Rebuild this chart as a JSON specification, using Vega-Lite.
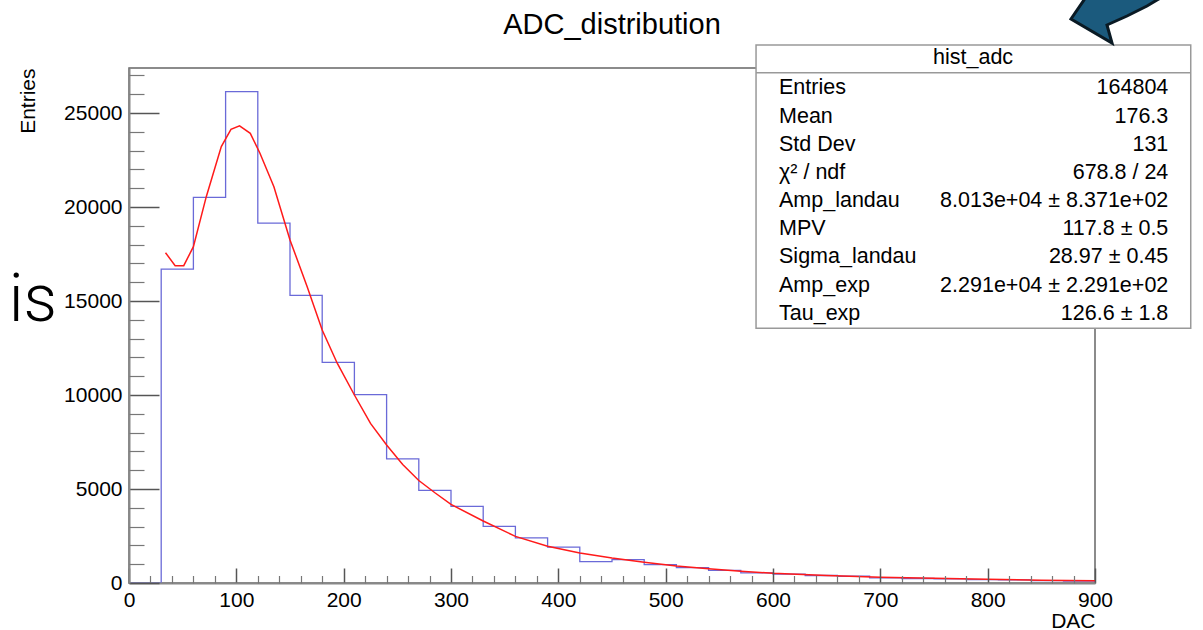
{
  "$schema": "https://vega.github.io/schema/vega-lite/v6.json",
  "width": 966,
  "height": 515,
  "autosize": {"type": "none"},
  "padding": {"left": 129, "top": 68, "right": 108, "bottom": 47},
  "background": "white",
  "config": {"view": {"stroke": "#666", "strokeWidth": 1.5}, "font": "Liberation Sans"},
  "datasets": {
    "hist": [
      {"lo": 0, "hi": 30, "count": 0},
      {"lo": 30, "hi": 60, "count": 16700},
      {"lo": 60, "hi": 90, "count": 20510},
      {"lo": 90, "hi": 120, "count": 26140},
      {"lo": 120, "hi": 150, "count": 19140},
      {"lo": 150, "hi": 180, "count": 15300},
      {"lo": 180, "hi": 210, "count": 11740},
      {"lo": 210, "hi": 240, "count": 10020},
      {"lo": 240, "hi": 270, "count": 6600},
      {"lo": 270, "hi": 300, "count": 4930},
      {"lo": 300, "hi": 330, "count": 4080},
      {"lo": 330, "hi": 360, "count": 3010},
      {"lo": 360, "hi": 390, "count": 2400},
      {"lo": 390, "hi": 420, "count": 1910},
      {"lo": 420, "hi": 450, "count": 1140},
      {"lo": 450, "hi": 480, "count": 1240},
      {"lo": 480, "hi": 510, "count": 980},
      {"lo": 510, "hi": 540, "count": 820},
      {"lo": 540, "hi": 570, "count": 670},
      {"lo": 570, "hi": 600, "count": 540},
      {"lo": 600, "hi": 630, "count": 470},
      {"lo": 630, "hi": 660, "count": 400},
      {"lo": 660, "hi": 690, "count": 360},
      {"lo": 690, "hi": 720, "count": 270},
      {"lo": 720, "hi": 750, "count": 240},
      {"lo": 750, "hi": 780, "count": 215},
      {"lo": 780, "hi": 810, "count": 180},
      {"lo": 810, "hi": 840, "count": 170},
      {"lo": 840, "hi": 870, "count": 125},
      {"lo": 870, "hi": 900, "count": 106}
    ],
    "fit": [
      {"x": 34, "y": 17570}, {"x": 43, "y": 16880}, {"x": 51, "y": 16880}, {"x": 60, "y": 17890},
      {"x": 72, "y": 20550}, {"x": 86, "y": 23210}, {"x": 95, "y": 24130}, {"x": 103, "y": 24320},
      {"x": 113, "y": 23920}, {"x": 122, "y": 22860}, {"x": 135, "y": 21080}, {"x": 150, "y": 18250},
      {"x": 166, "y": 15760}, {"x": 180, "y": 13460}, {"x": 194, "y": 11690}, {"x": 210, "y": 10000},
      {"x": 225, "y": 8490}, {"x": 240, "y": 7340}, {"x": 255, "y": 6300}, {"x": 270, "y": 5450},
      {"x": 285, "y": 4800}, {"x": 300, "y": 4180}, {"x": 330, "y": 3300}, {"x": 360, "y": 2480},
      {"x": 390, "y": 1960}, {"x": 420, "y": 1600}, {"x": 450, "y": 1330}, {"x": 480, "y": 1100},
      {"x": 510, "y": 900}, {"x": 540, "y": 760}, {"x": 570, "y": 630}, {"x": 600, "y": 520},
      {"x": 650, "y": 400}, {"x": 700, "y": 310}, {"x": 750, "y": 250}, {"x": 800, "y": 200},
      {"x": 850, "y": 150}, {"x": 900, "y": 115}
    ],
    "stats": [
      {"row": 1, "name": "Entries", "value": "164804"},
      {"row": 2, "name": "Mean", "value": "176.3"},
      {"row": 3, "name": "Std Dev", "value": "131"},
      {"row": 4, "name": "χ² / ndf", "value": "678.8 / 24"},
      {"row": 5, "name": "Amp_landau", "value": "8.013e+04 ± 8.371e+02"},
      {"row": 6, "name": "MPV", "value": "117.8 ± 0.5"},
      {"row": 7, "name": "Sigma_landau", "value": "28.97 ± 0.45"},
      {"row": 8, "name": "Amp_exp", "value": "2.291e+04 ± 2.291e+02"},
      {"row": 9, "name": "Tau_exp", "value": "126.6 ± 1.8"}
    ]
  },
  "resolve": {"scale": {"y": "independent"}, "axis": {"x": "independent", "y": "independent"}},
  "layer": [
    {
      "data": {"name": "hist"},
      "mark": {"type": "line", "interpolate": "step-after", "color": "#6a6ad8", "strokeWidth": 1.3},
      "encoding": {
        "x": {"field": "lo", "type": "quantitative", "scale": {"domain": [0, 900], "nice": false, "zero": false},
          "axis": {"orient": "bottom", "values": [0, 100, 200, 300, 400, 500, 600, 700, 800, 900], "format": "d",
            "tickSize": -15, "tickWidth": 1.5, "tickColor": "#555", "domainColor": "#888", "domainWidth": 2,
            "labelFont": "Liberation Sans", "labelFontSize": 21, "labelColor": "#000", "labelPadding": 21,
            "labelFlush": false, "labelOverlap": false, "grid": false,
            "title": "DAC", "titleFont": "Liberation Sans", "titleFontSize": 21, "titleFontWeight": "normal",
            "titleColor": "#000", "titleAnchor": "end", "titlePadding": 0, "zindex": 1}},
        "y": {"field": "count", "type": "quantitative", "scale": {"domain": [0, 27394], "nice": false, "zero": false},
          "axis": {"orient": "left", "values": [0, 5000, 10000, 15000, 20000, 25000], "format": "d",
            "tickSize": -30, "tickWidth": 1.5, "tickColor": "#555", "domainColor": "#888", "domainWidth": 2,
            "labelFont": "Liberation Sans", "labelFontSize": 21, "labelColor": "#000", "labelPadding": 37,
            "labelFlush": false, "labelOverlap": false, "grid": false,
            "title": "Entries", "titleFont": "Liberation Sans", "titleFontSize": 21, "titleFontWeight": "normal",
            "titleColor": "#000", "titleAnchor": "end", "titlePadding": 25, "zindex": 1}}
      }
    },
    {
      "data": {"name": "hist"},
      "transform": [{"filter": {"field": "lo", "equal": 870}}],
      "mark": {"type": "rule", "color": "#6a6ad8", "strokeWidth": 1.3},
      "encoding": {
        "x": {"field": "lo", "type": "quantitative", "scale": {"domain": [0, 900], "nice": false, "zero": false},
          "axis": {"orient": "bottom", "values": [20, 40, 60, 80, 120, 140, 160, 180, 220, 240, 260, 280, 320, 340, 360, 380, 420, 440, 460, 480, 520, 540, 560, 580, 620, 640, 660, 680, 720, 740, 760, 780, 820, 840, 860, 880],
            "tickSize": -7.5, "tickWidth": 1.2, "tickColor": "#777", "domain": false, "labels": false, "grid": false, "title": null, "zindex": 1}},
        "x2": {"field": "hi"},
        "y": {"field": "count", "type": "quantitative", "scale": {"domain": [0, 27394], "nice": false, "zero": false},
          "axis": {"orient": "left", "values": [1000, 2000, 3000, 4000, 6000, 7000, 8000, 9000, 11000, 12000, 13000, 14000, 16000, 17000, 18000, 19000, 21000, 22000, 23000, 24000, 26000, 27000],
            "tickSize": -15, "tickWidth": 1.2, "tickColor": "#777", "domain": false, "labels": false, "grid": false, "title": null, "zindex": 1}}
      }
    },
    {
      "data": {"name": "fit"},
      "mark": {"type": "line", "color": "#ff1a1a", "strokeWidth": 1.5},
      "encoding": {
        "x": {"field": "x", "type": "quantitative", "scale": {"domain": [0, 900], "nice": false, "zero": false}, "axis": null},
        "y": {"field": "y", "type": "quantitative", "scale": {"domain": [0, 27394], "nice": false, "zero": false}, "axis": null}
      }
    },
    {
      "data": {"values": [{}]},
      "mark": {"type": "rect", "fill": "white", "stroke": "#999", "strokeWidth": 1.5},
      "encoding": {
        "x": {"datum": 584.2, "type": "quantitative", "scale": {"domain": [0, 900], "nice": false, "zero": false}, "axis": null},
        "x2": {"datum": 989.2},
        "y": {"datum": -0.535, "type": "quantitative", "scale": {"domain": [0.28, 18.543], "reverse": true, "nice": false, "zero": false}, "axis": null},
        "y2": {"datum": 9.511}
      }
    },
    {
      "data": {"values": [{}]},
      "mark": {"type": "rule", "stroke": "#999", "strokeWidth": 1.5},
      "encoding": {
        "x": {"datum": 584.2, "type": "quantitative", "scale": {"domain": [0, 900], "nice": false, "zero": false}, "axis": null},
        "x2": {"datum": 989.2},
        "y": {"datum": 0.447, "type": "quantitative", "scale": {"domain": [0.28, 18.543], "reverse": true, "nice": false, "zero": false}, "axis": null}
      }
    },
    {
      "data": {"values": [{}]},
      "mark": {"type": "text", "text": "hist_adc", "font": "Liberation Sans", "fontSize": 21.5, "align": "center", "baseline": "middle", "color": "#000"},
      "encoding": {
        "x": {"datum": 786.4, "type": "quantitative", "scale": {"domain": [0, 900], "nice": false, "zero": false}, "axis": null},
        "y": {"datum": -0.064, "type": "quantitative", "scale": {"domain": [0.28, 18.543], "reverse": true, "nice": false, "zero": false}, "axis": null}
      }
    },
    {
      "data": {"name": "stats"},
      "mark": {"type": "text", "font": "Liberation Sans", "fontSize": 21.5, "align": "left", "baseline": "middle", "color": "#000"},
      "encoding": {
        "text": {"field": "name"},
        "x": {"datum": 605.6, "type": "quantitative", "scale": {"domain": [0, 900], "nice": false, "zero": false}, "axis": null},
        "y": {"field": "row", "type": "quantitative", "scale": {"domain": [0.28, 18.543], "reverse": true, "nice": false, "zero": false}, "axis": null}
      }
    },
    {
      "data": {"name": "stats"},
      "mark": {"type": "text", "font": "Liberation Sans", "fontSize": 21.5, "align": "right", "baseline": "middle", "color": "#000"},
      "encoding": {
        "text": {"field": "value"},
        "x": {"datum": 968.3, "type": "quantitative", "scale": {"domain": [0, 900], "nice": false, "zero": false}, "axis": null},
        "y": {"field": "row", "type": "quantitative", "scale": {"domain": [0.28, 18.543], "reverse": true, "nice": false, "zero": false}, "axis": null}
      }
    },
    {
      "data": {"values": [{}]},
      "mark": {"type": "text", "text": "ADC_distribution", "font": "Liberation Sans", "fontSize": 29, "align": "center", "baseline": "alphabetic", "color": "#000"},
      "encoding": {
        "x": {"datum": 450, "type": "quantitative", "scale": {"domain": [0, 900], "nice": false, "zero": false}, "axis": null},
        "y": {"datum": 29202, "type": "quantitative", "scale": {"domain": [0, 27394], "nice": false, "zero": false}, "axis": null}
      }
    },
    {
      "data": {"values": [{}]},
      "mark": {"type": "text", "text": "is", "font": "Roboto", "fontWeight": 300, "fontSize": 66, "align": "left", "baseline": "alphabetic", "color": "#000"},
      "encoding": {
        "x": {"datum": -112, "type": "quantitative", "scale": {"domain": [0, 900], "nice": false, "zero": false}, "axis": null},
        "y": {"datum": 13936, "type": "quantitative", "scale": {"domain": [0, 27394], "nice": false, "zero": false}, "axis": null}
      }
    },
    {
      "data": {"values": [{}]},
      "mark": {"type": "point", "shape": "M -0.5 -0.367 L -0.6 -0.167 L -0.817 0.15 L -0.133 0.55 L -0.217 0.25 L 0.117 0.1 L 0.45 -0.067 L 0.617 -0.167 L 0.967 -0.367 Z",
        "size": 14400, "filled": true, "fill": "#1b5a7d", "stroke": "#0a1a24", "strokeWidth": 3, "opacity": 1, "fillOpacity": 1},
      "encoding": {
        "x": {"datum": 923.3, "type": "quantitative", "scale": {"domain": [0, 900], "nice": false, "zero": false}, "axis": null},
        "y": {"datum": 30479, "type": "quantitative", "scale": {"domain": [0, 27394], "nice": false, "zero": false}, "axis": null}
      }
    }
  ]
}
